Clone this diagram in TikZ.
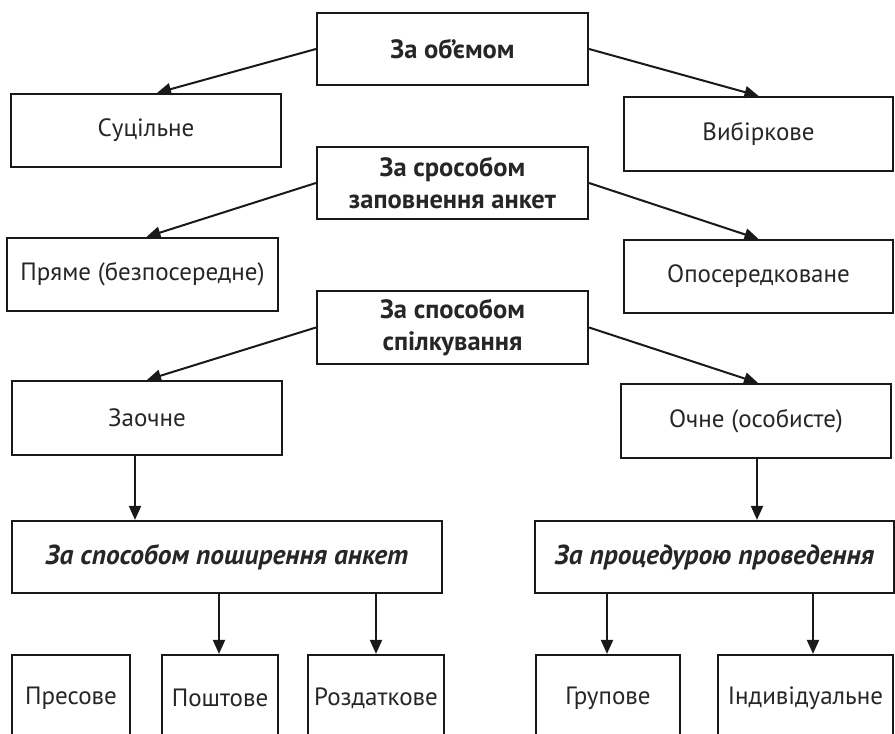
\documentclass[tikz,border=0pt]{standalone}
\usepackage{fontspec}
\setmainfont{PT Sans}
\usetikzlibrary{arrows.meta,calc}
\begin{document}
\begin{tikzpicture}[x=1pt,y=-1pt,
  box/.style={draw=black!90,line width=2.2pt,inner sep=0pt,align=center,font=\fontsize{25}{32}\selectfont,text=black!85},
  head/.style={box,minimum width=271pt,minimum height=72pt,font=\fontsize{26.5}{32}\selectfont\bfseries},
  ihead/.style={box,minimum height=72pt,font=\fontsize{27.5}{32}\selectfont\bfseries\itshape},
  leaf/.style={box,minimum width=270pt,minimum height=73pt},
  bot/.style={box,minimum height=86pt},
  arr/.style={line width=2pt,draw=black!90,-{Triangle[length=14pt,width=12pt]}}]
\useasboundingbox (0,0) rectangle (895,734);
\begin{scope}
\clip (0,0) rectangle (895,734);
\node[head] (b1) at (452.5,49) {За об’ємом};
\node[leaf] (s1) at (146,130.5) {Суцільне};
\node[leaf,minimum width=269pt,minimum height=74pt] (v1) at (758.5,134) {Вибіркове};
\node[head] (b2) at (452.5,183) {За сросoбом\\заповнення анкет};
\node[leaf,minimum width=271pt] (p1) at (142.5,274.5) {Пряме (безпосередне)};
\node[leaf,minimum width=269pt] (o1) at (758.5,276.5) {Опосередковане};
\node[head,minimum height=73pt] (b3) at (452.5,327.5) {За способом\\спілкування};
\node[leaf,minimum height=74pt] (z1) at (147,418) {Заочне};
\node[leaf,minimum height=74pt] (c1) at (756,421) {Очне (особисте)};
\node[ihead,minimum width=430pt] (b4) at (227,557) {За способом поширення анкет};
\node[ihead,minimum width=359pt] (b5) at (714.5,557) {За процедурою проведення};
\node[bot,minimum width=118pt] (q1) at (71,698) {Пресове};
\node[bot,minimum width=116pt] (q2) at (220,698) {Поштове};
\node[bot,minimum width=136pt] (q3) at (376,698) {Роздаткове};
\node[bot,minimum width=144pt] (q4) at (608,698) {Групове};
\node[bot,minimum width=175pt] (q5) at (805.5,698) {Індивідуальне};
\end{scope}
\draw[arr] (b1.west) -- ([xshift=11pt]s1.north);
\draw[arr] (b1.east) -- (v1.north);
\draw[arr] (b2.west) -- ([xshift=4pt]p1.north);
\draw[arr] (b2.east) -- (o1.north);
\draw[arr] (b3.west) -- (z1.north);
\draw[arr] (b3.east) -- ([xshift=2pt]c1.north);
\coordinate (za) at ([xshift=-12pt]z1.south);
\draw[arr] (za) -- (za |- b4.north);
\coordinate (ca) at ([xshift=1pt]c1.south);
\draw[arr] (ca) -- (ca |- b5.north);
\coordinate (q2a) at ([xshift=-1pt]q2.north);
\draw[arr] (q2a |- b4.south) -- (q2a);
\draw[arr] (q3.north |- b4.south) -- (q3.north);
\coordinate (q4a) at ([xshift=-1pt]q4.north);
\draw[arr] (q4a |- b5.south) -- (q4a);
\coordinate (q5a) at ([xshift=7.5pt]q5.north);
\draw[arr] (q5a |- b5.south) -- (q5a);
\end{tikzpicture}
\end{document}
